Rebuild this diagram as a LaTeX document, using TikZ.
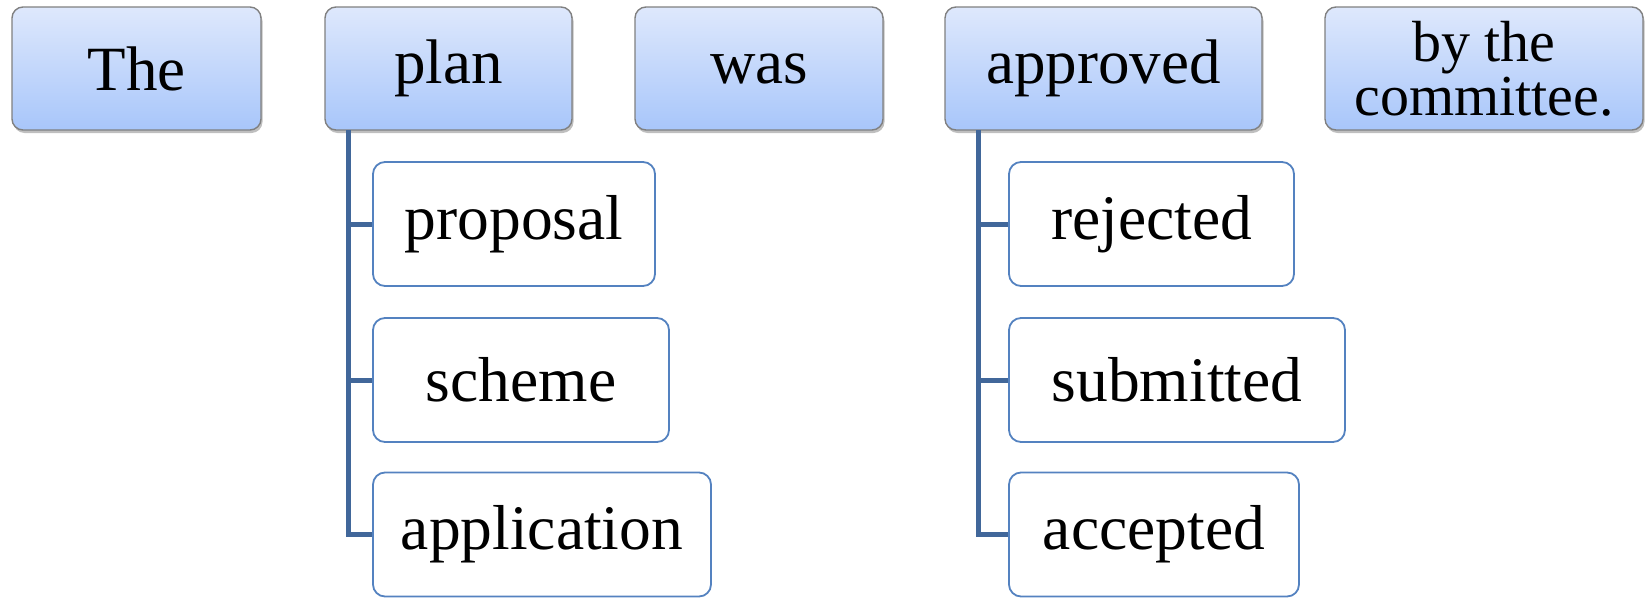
\documentclass[tikz,border=0pt]{standalone}
\usepackage{fontspec}
\setmainfont{Liberation Serif}
\usetikzlibrary{shadows}
\definecolor{topA}{RGB}{222,232,252}
\definecolor{topB}{RGB}{168,198,250}
\definecolor{topline}{RGB}{128,128,128}
\definecolor{childline}{RGB}{84,130,192}
\definecolor{connc}{RGB}{65,103,154}
\tikzset{
  wordbox/.style={draw=topline, line width=1.4pt, rounded corners=11pt,
    top color=topA, bottom color=topB, inner sep=0pt,
    minimum height=123pt, align=center,
    font=\fontsize{63}{63}\selectfont,
    drop shadow={shadow xshift=1.5pt, shadow yshift=-3pt, fill=black, opacity=0.25}},
  altbox/.style={draw=childline, line width=1.8pt, rounded corners=12pt,
    fill=white, inner sep=0pt, minimum height=124pt,
    font=\fontsize{63.5}{63.5}\selectfont},
  conn/.style={draw=connc, line width=5pt}
}
\begin{document}
\begin{tikzpicture}[x=1pt,y=-1pt]
\useasboundingbox (0,0) rectangle (1646,597);
% top row
\node[wordbox, minimum width=249pt] (the) at (136.5,68.5) {The};
\node[wordbox, minimum width=247pt] (plan) at (448.5,68.5) {plan};
\node[wordbox, minimum width=248pt] (was) at (759,68.5) {was};
\node[wordbox, minimum width=317pt] (appr) at (1103.5,68.5) {approved};
\node[wordbox, minimum width=318pt, font=\fontsize{58}{54}\selectfont] (comm) at (1484,68.5) {by the\\committee.};
% alternatives for plan
\node[altbox, minimum width=282pt] (prop) at (514,224) {proposal};
\node[altbox, minimum width=296pt] (sch) at (521,380) {scheme};
\node[altbox, minimum width=338pt] (app) at (542,534.5) {application};
% alternatives for approved
\node[altbox, minimum width=285pt] (rej) at (1151.5,224) {rejected};
\node[altbox, minimum width=336pt] (sub) at (1177,380) {submitted};
\node[altbox, minimum width=290pt] (acc) at (1154,534.5) {accepted};
% connectors
\coordinate (pv) at (348.5,130);
\coordinate (av) at (978,130);
\draw[conn] (pv) |- (app.west);
\draw[conn] (pv |- prop.west) -- (prop.west);
\draw[conn] (pv |- sch.west) -- (sch.west);
\draw[conn] (av) |- (acc.west);
\draw[conn] (av |- rej.west) -- (rej.west);
\draw[conn] (av |- sub.west) -- (sub.west);
\end{tikzpicture}
\end{document}
